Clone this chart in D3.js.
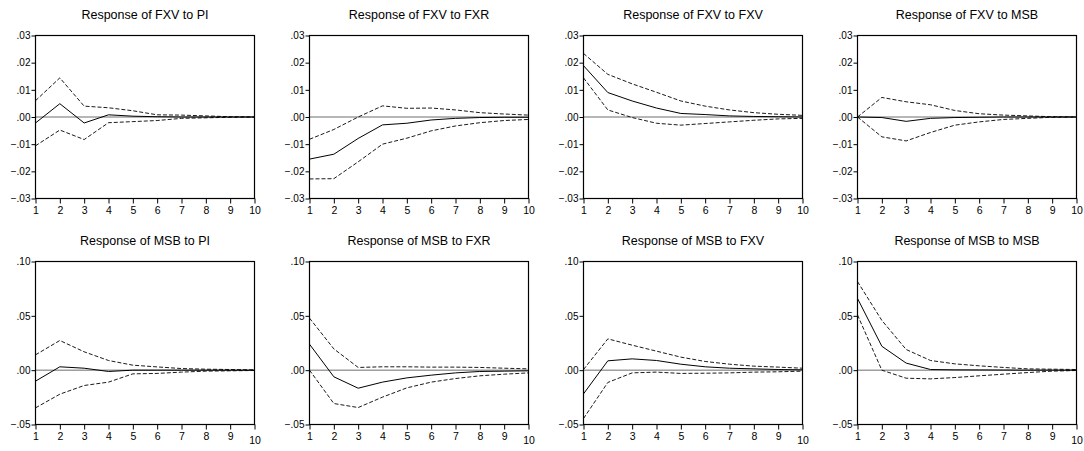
<!DOCTYPE html>
<html>
<head>
<meta charset="utf-8">
<script src="https://cdn.jsdelivr.net/npm/d3@7"></script>
<style>
body { margin:0; background:#fff; }
svg text { font-family:"Liberation Sans", Arial, sans-serif; fill:#000; }
</style>
</head>
<body>
<div id="chart"></div>
<script>
"use strict"

// periods on the x axis
var steps = [1,2,3,4,5,6,7,8,9,10];

var titles = [
	"Response of FXV to PI", "Response of FXV to FXR", "Response of FXV to FXV", "Response of FXV to MSB",
	"Response of MSB to PI", "Response of MSB to FXR", "Response of MSB to FXV", "Response of MSB to MSB"
];

// impulse responses (solid)
var mid = [
	[-0.0022, 0.0049, -0.0022, 0.0008, 0.0003, 0.0001, 0, 0, 0, 0],
	[-0.0155, -0.0137, -0.0079, -0.0029, -0.0023, -0.0011, -0.0005, -0.0002, -0.0001, -0.0001],
	[0.0189, 0.0090, 0.0059, 0.0033, 0.0013, 0.0009, 0.0004, 0.0002, 0.0001, 0],
	[0, -0.0002, -0.0016, -0.0005, -0.0002, -0.0001, 0, 0, 0, 0],
	[-0.0101, 0.0031, 0.0018, -0.0012, 0, 0, 0, 0, 0, 0],
	[0.0239, -0.0061, -0.0166, -0.0110, -0.0071, -0.0046, -0.0025, -0.0012, -0.0009, -0.0006],
	[-0.0218, 0.0086, 0.0104, 0.0089, 0.0055, 0.0031, 0.0018, 0.0012, 0.0006, 0.0003],
	[0.0660, 0.0220, 0.0065, 0.0006, 0.0003, 0.0002, 0.0001, 0, 0, 0]
];

// +/- 2 s.e. bands (dashed)
var upper = [
	[0.0060, 0.0144, 0.0040, 0.0034, 0.0023, 0.0008, 0.0007, 0.0004, 0.0001, 0],
	[-0.0082, -0.0046, 0.0000, 0.0041, 0.0032, 0.0033, 0.0026, 0.0016, 0.0011, 0.0007],
	[0.0234, 0.0157, 0.0122, 0.0091, 0.0059, 0.0040, 0.0026, 0.0016, 0.0010, 0.0006],
	[0, 0.0072, 0.0056, 0.0045, 0.0024, 0.0012, 0.0007, 0.0004, 0.0001, 0],
	[0.0141, 0.0273, 0.0169, 0.0089, 0.0046, 0.0030, 0.0015, 0.0009, 0.0006, 0.0003],
	[0.0479, 0.0196, 0.0025, 0.0031, 0.0031, 0.0028, 0.0028, 0.0025, 0.0018, 0.0012],
	[0.0006, 0.0288, 0.0230, 0.0175, 0.0120, 0.0080, 0.0055, 0.0037, 0.0028, 0.0018],
	[0.0815, 0.0458, 0.0190, 0.0089, 0.0058, 0.0040, 0.0025, 0.0012, 0.0009, 0.0006]
];

var lower = [
	[-0.0106, -0.0048, -0.0083, -0.0021, -0.0017, -0.0013, -0.0005, -0.0003, -0.0001, 0],
	[-0.0228, -0.0227, -0.0165, -0.0100, -0.0078, -0.0051, -0.0033, -0.0021, -0.0013, -0.0009],
	[0.0144, 0.0026, -0.0002, -0.0023, -0.0030, -0.0024, -0.0018, -0.0012, -0.0007, -0.0005],
	[0, -0.0073, -0.0088, -0.0057, -0.0030, -0.0018, -0.0009, -0.0005, -0.0001, 0],
	[-0.0347, -0.0221, -0.0141, -0.0110, -0.0034, -0.0030, -0.0018, -0.0009, -0.0006, -0.0003],
	[0.0000, -0.0307, -0.0344, -0.0248, -0.0163, -0.0110, -0.0077, -0.0052, -0.0037, -0.0025],
	[-0.0445, -0.0113, -0.0025, -0.0018, -0.0030, -0.0028, -0.0025, -0.0018, -0.0015, -0.0009],
	[0.0508, 0.0000, -0.0074, -0.0080, -0.0068, -0.0052, -0.0037, -0.0022, -0.0009, -0.0003]
];

// y axis per row
var yDomains = [[-0.03, 0.03], [-0.05, 0.10]];
var yTicks = [
	[-0.03, -0.02, -0.01, 0, 0.01, 0.02, 0.03],
	[-0.05, 0, 0.05, 0.10]
];

var W = 1084, H = 451;
var pw = 219, ph = 163;
var lefts = [35.5, 309.5, 583.5, 857.5];
var tops = [35.5, 261.5];

var svg = d3.select("#chart").append("svg")
	.attr("width", W)
	.attr("height", H);

var fmt = function(v) {
	var s = d3.format(".2f")(v);
	return s.replace("0.", ".");
};

for (var i = 0; i < 8; i++) {
	var row = Math.floor(i / 4), col = i % 4;
	var g = svg.append("g")
		.attr("transform", "translate(" + lefts[col] + "," + tops[row] + ")");

	var x = d3.scaleLinear().domain([1, 10]).range([0, pw]);
	var y = d3.scaleLinear().domain(yDomains[row]).range([ph, 0]);

	g.append("text")
		.attr("x", pw / 2)
		.attr("y", -17)
		.attr("text-anchor", "middle")
		.style("font-size", "12.5px")
		.text(titles[i]);

	// zero line
	g.append("line")
		.attr("x1", 0).attr("x2", pw)
		.attr("y1", y(0)).attr("y2", y(0))
		.attr("stroke", "#6e6e6e")
		.attr("stroke-width", 1);

	var line = d3.line()
		.x(function(d, k) { return x(steps[k]); })
		.y(function(d) { return y(d); });

	[upper[i], lower[i]].forEach(function(s) {
		g.append("path")
			.attr("d", line(s))
			.attr("fill", "none")
			.attr("stroke", "#000")
			.attr("stroke-width", 0.9)
			.attr("stroke-dasharray", "4,2");
	});

	g.append("path")
		.attr("d", line(mid[i]))
		.attr("fill", "none")
		.attr("stroke", "#000")
		.attr("stroke-width", 1);

	// frame
	g.append("rect")
		.attr("width", pw).attr("height", ph)
		.attr("fill", "none")
		.attr("stroke", "#000")
		.attr("stroke-width", 1.2);

	var ya = g.append("g")
		.call(d3.axisLeft(y).tickValues(yTicks[row]).tickFormat(fmt).tickSize(4).tickPadding(1).tickSizeOuter(0));
	ya.select(".domain").remove();
	ya.selectAll("text").style("font-size", "10px");

	var xa = g.append("g")
		.attr("transform", "translate(0," + ph + ")")
		.call(d3.axisBottom(x).tickValues(steps).tickFormat(d3.format("d")).tickSize(5).tickPadding(3).tickSizeOuter(0));
	xa.select(".domain").remove();
	xa.selectAll("text").style("font-size", "10.5px");
	if (row == 1) {
		xa.selectAll("text").filter(function(d) { return d == 10; }).attr("dy", "1.05em");
	}
}
</script>
</body>
</html>
